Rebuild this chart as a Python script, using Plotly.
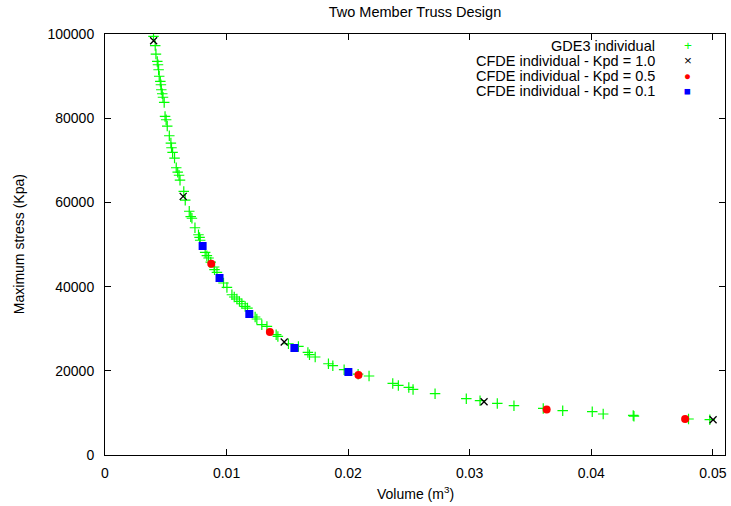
import plotly.graph_objects as go

# ---- data ----
gde3_volume = [0.00399, 0.00413, 0.00419, 0.00430, 0.00436, 0.00441, 0.00446, 0.00455, 0.00460, 0.00463,
               0.00471, 0.00477, 0.00487, 0.00494, 0.00503, 0.00512, 0.00529, 0.00542, 0.00547, 0.00556,
               0.00572, 0.00586, 0.00598, 0.00609, 0.00617, 0.00648, 0.00660, 0.00693, 0.00705, 0.00715,
               0.00740, 0.00769, 0.00778, 0.00783, 0.00824, 0.00838, 0.00852, 0.00870, 0.00898, 0.00901,
               0.00921, 0.00975, 0.01003, 0.01044, 0.01063, 0.01085, 0.01106, 0.01126, 0.01153, 0.01172,
               0.01235, 0.01249, 0.01290, 0.01332, 0.01408, 0.01422, 0.01509, 0.01591, 0.01669, 0.01682,
               0.01729, 0.01838, 0.01874, 0.01967, 0.02082, 0.02172, 0.02367, 0.02413, 0.02499, 0.02534,
               0.02715, 0.02972, 0.03085, 0.03227, 0.03364, 0.03605, 0.03765, 0.04008, 0.04098, 0.04345,
               0.04351, 0.04800, 0.04975]
gde3_stress = [99420, 97240, 95240, 93480, 92700, 91510, 89970, 88730, 87950, 86760,
               85810, 84980, 83740, 80420, 79630, 78140, 75830, 74100, 72980, 71870,
               70540, 68230, 67170, 66450, 65270, 62610, 60520, 57900, 56600, 56240,
               53980, 52320, 51680, 51010, 48120, 47340, 46790, 45790, 44650, 44010,
               43370, 40850, 39810, 38070, 37530, 37050, 36480, 35930, 35290, 34910,
               32780, 32300, 30950, 30540, 28570, 28170, 26430, 25790, 24370, 23820,
               23280, 21680, 21210, 20260, 19190, 18760, 17010, 16530, 16060, 15580,
               14560, 13370, 12900, 12250, 11710, 11070, 10520, 10280, 9740, 9410,
               9220, 8550, 8380]

kpd10_volume = [0.00400, 0.00643, 0.01474, 0.03118, 0.05002]
kpd10_stress = [98400, 61430, 26840, 12660, 8385]

kpd05_volume = [0.00874, 0.01356, 0.02085, 0.03633, 0.04772]
kpd05_stress = [45440, 29220, 19000, 10830, 8550]

kpd01_volume = [0.00803, 0.00942, 0.01187, 0.01558, 0.02002]
kpd01_stress = [49640, 42040, 33490, 25420, 19710]

series_names = ["GDE3 individual", "CFDE individual - Kpd = 1.0",
                "CFDE individual - Kpd = 0.5", "CFDE individual - Kpd = 0.1"]
x_ticks = [0, 0.01, 0.02, 0.03, 0.04, 0.05]
x_tick_labels = ["0", "0.01", "0.02", "0.03", "0.04", "0.05"]
y_ticks = [0, 20000, 40000, 60000, 80000, 100000]
y_tick_labels = ["0", "20000", "40000", "60000", "80000", "100000"]

FONT = "Liberation Sans, Arial, sans-serif"

fig = go.Figure()
fig.add_trace(go.Scatter(x=gde3_volume, y=gde3_stress, mode="markers", name=series_names[0],
                         marker=dict(symbol="cross-thin-open", size=7.5, color="#00ff00",
                                     line=dict(color="#00ff00", width=1.2))))
fig.add_trace(go.Scatter(x=kpd10_volume, y=kpd10_stress, mode="markers", name=series_names[1],
                         marker=dict(symbol="x-thin-open", size=7, color="black",
                                     line=dict(color="black", width=1.3))))
fig.add_trace(go.Scatter(x=kpd05_volume, y=kpd05_stress, mode="markers", name=series_names[2],
                         marker=dict(symbol="circle", size=8, color="#ff0000", line=dict(width=0))))
fig.add_trace(go.Scatter(x=kpd01_volume, y=kpd01_stress, mode="markers", name=series_names[3],
                         marker=dict(symbol="square", size=8, color="#0000ff", line=dict(width=0))))

plot_top, plot_bottom = 34.3, 455.3
plot_left, plot_right = 104.7, 725.0


def px_x(p):
    return (p - plot_left) / (plot_right - plot_left)


def px_y(p):
    return (plot_bottom - p) / (plot_bottom - plot_top)


# gnuplot-style key: text right-aligned, symbol to the right
legend_glyphs = [("+", "#00ff00", 13.5), ("×", "black", 13.5), ("●", "#ff0000", 11.5), ("■", "#0000ff", 11.5)]
legend_rows_px = [46, 61, 76, 91]
for name, (g, c, s), ypx in zip(series_names, legend_glyphs, legend_rows_px):
    fig.add_annotation(x=px_x(656.7), y=px_y(ypx), xref="paper", yref="paper",
                       text=name, showarrow=False, xanchor="right", yanchor="middle",
                       font=dict(family=FONT, size=14.5, color="black"))
    fig.add_annotation(x=px_x(687.7), y=px_y(ypx), xref="paper", yref="paper",
                       text=g, showarrow=False, xanchor="center", yanchor="middle",
                       font=dict(family=FONT, size=s, color=c))

# axis titles
fig.add_annotation(x=0.5, y=px_y(493), xref="paper", yref="paper", text="Volume (m<sup>3</sup>)",
                   showarrow=False, xanchor="center", yanchor="middle",
                   font=dict(family=FONT, size=14, color="black"))
fig.add_annotation(x=px_x(18.3), y=0.5, xref="paper", yref="paper", text="Maximum stress (Kpa)",
                   showarrow=False, xanchor="center", yanchor="middle", textangle=-90,
                   font=dict(family=FONT, size=14, color="black"))

fig.update_layout(
    width=731, height=506,
    margin=dict(l=105, r=6, t=34, b=51, autoexpand=False),
    paper_bgcolor="white", plot_bgcolor="white",
    showlegend=False,
    font=dict(family=FONT, size=14, color="black"),
    title=dict(text="Two Member Truss Design", x=0.5677, xanchor="center",
               y=1 - 12 / 506, yanchor="middle", yref="container",
               font=dict(family=FONT, size=14.5, color="black")),
    xaxis=dict(range=[0, 0.051], tickmode="array", tickvals=x_ticks, ticktext=x_tick_labels,
               ticks="inside", ticklen=6, tickwidth=1, tickcolor="black",
               showline=True, linecolor="black", linewidth=1, mirror="ticks",
               showgrid=False, zeroline=False, ticklabelstandoff=5, automargin=False,
               tickfont=dict(family=FONT, size=14)),
    yaxis=dict(range=[0, 100000], tickmode="array", tickvals=y_ticks, ticktext=y_tick_labels,
               ticks="inside", ticklen=6, tickwidth=1, tickcolor="black",
               showline=True, linecolor="black", linewidth=1, mirror="ticks",
               showgrid=False, zeroline=False, ticklabelstandoff=7, automargin=False,
               tickfont=dict(family=FONT, size=14)),
)

fig.write_html("out.html", config={"displayModeBar": False},
               post_script="document.body.style.margin='0';document.body.style.overflow='hidden';")
